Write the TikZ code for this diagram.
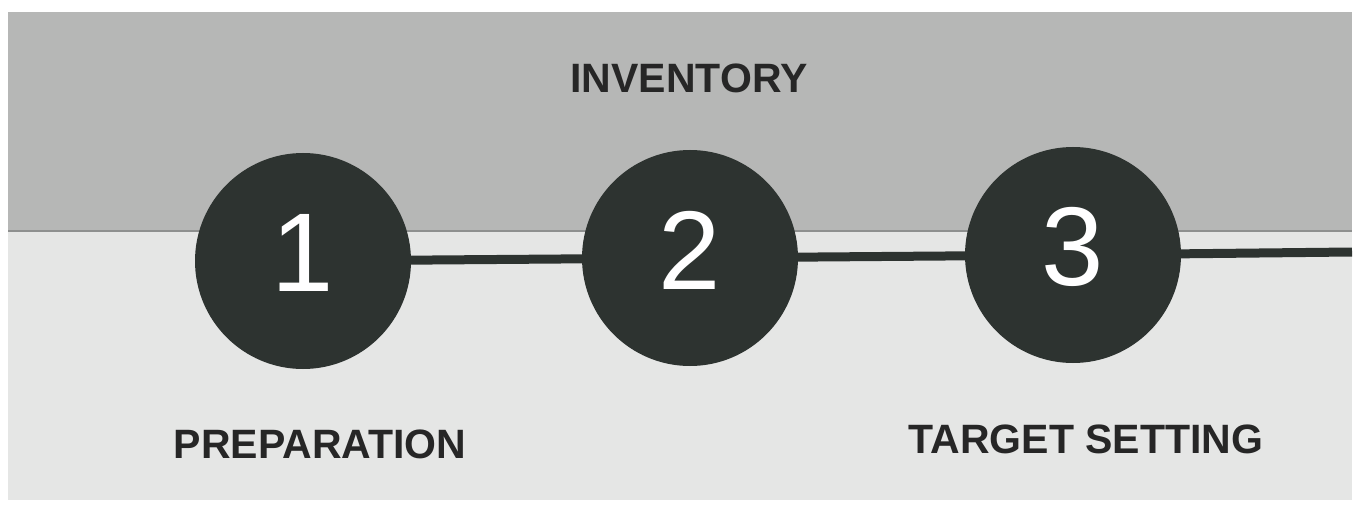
\documentclass[tikz,border=0pt]{standalone}
\usepackage{fontspec}
\setmainfont{Liberation Sans}
\usepackage{tikz}
\definecolor{bandtop}{HTML}{B6B7B6}
\definecolor{bandlow}{HTML}{E5E6E5}
\definecolor{seamc}{HTML}{8E908F}
\definecolor{dotc}{HTML}{2D3330}
\definecolor{inkc}{HTML}{262626}

\begin{document}
\begin{tikzpicture}[x=1pt, y=-1pt,
    stepdot/.style={circle, fill=dotc, minimum size=216pt, inner sep=0pt},
    numtext/.style={text=white, font=\fontsize{112}{112}\selectfont, inner sep=0pt},
    phase/.style={text=inkc, font=\fontsize{41}{49}\selectfont\bfseries, anchor=base, inner sep=0pt},
    link/.style={dotc, line width=9pt}]
    \useasboundingbox (0,0) rectangle (1355,508);
    % background bands
    \fill[white] (0,0) rectangle (1355,508);
    \fill[bandtop] (8,12) rectangle (1352,232);
    \fill[bandlow] (8,232) rectangle (1352,500);
    \draw[seamc, line width=2pt] (8,231) -- (1352,231);
    % steps
    \node[stepdot] (s1) at (303,261) {};
    \node[stepdot] (s2) at (690,258) {};
    \node[stepdot] (s3) at (1073,255) {};
    \coordinate (rend) at (1352,252);
    \draw[link] (s1) -- (s2);
    \draw[link] (s2) -- (s3);
    \draw[link] (s3) -- (rend);
    \node[numtext] (n1) at ([yshift=8pt]s1.center) {1};
    \node[numtext] (n2) at ([yshift=8pt]s2.center) {2};
    \node[numtext] (n3) at ([yshift=8pt]s3.center) {3};
    % phase labels
    \node[phase] (inv) at (689,93) {INVENTORY};
    \node[phase] (prep) at (320,458) {PREPARATION};
    \node[phase] (targ) at (1086,453) {TARGET SETTING};
\end{tikzpicture}
\end{document}
